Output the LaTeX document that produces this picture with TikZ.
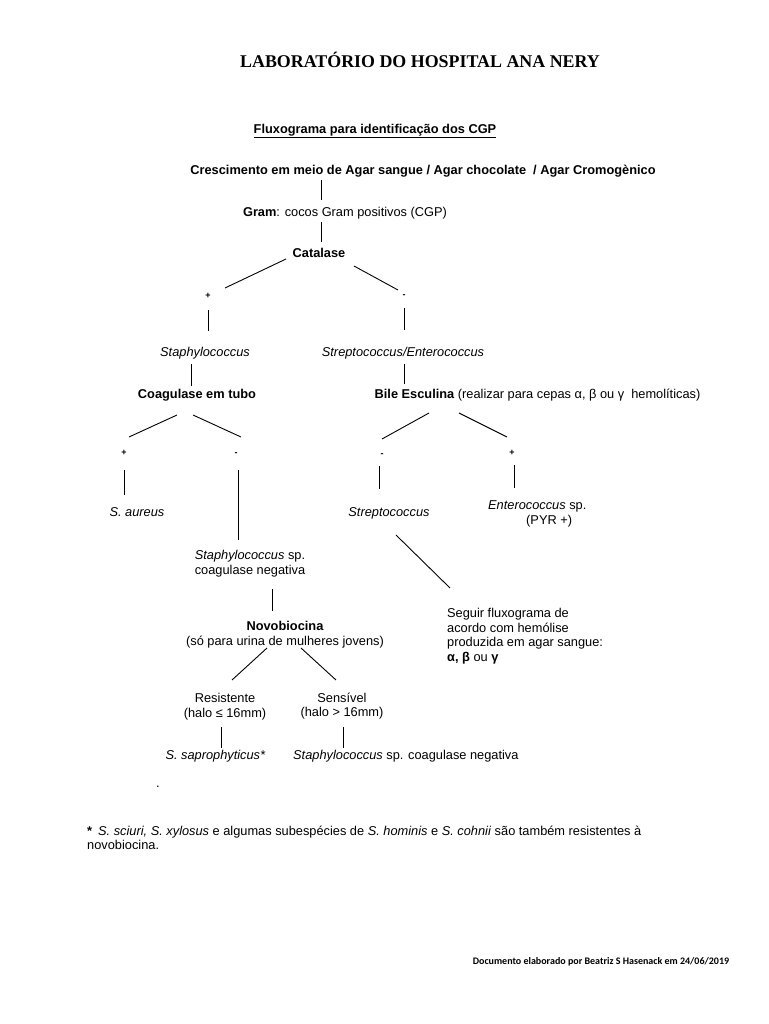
\documentclass[tikz,border=0pt]{standalone}
\usepackage{fontspec}
\setmainfont{Liberation Sans}
\newfontfamily\titlefont{Liberation Serif}
\newfontfamily\notefont{Carlito}
\usetikzlibrary{calc}

\begin{document}
\begin{tikzpicture}[x = 1pt, y = -1pt, font = \fontsize{12.8}{14.5}\selectfont]
\tikzstyle{TextStyle} = [inner sep = 0pt, anchor = base]
\tikzstyle{BlockStyle} = [inner sep = 0pt, anchor = north, align = center]
\tikzstyle{SignStyle} = [inner sep = 0pt, font = \fontsize{9}{9}\selectfont\bfseries]
\tikzstyle{EdgeStyle} = [line width = 0.9pt]
\useasboundingbox (0, 0) rectangle (768, 1024);
% headings
\node[TextStyle, font = \fontsize{17.9}{20}\selectfont\titlefont\bfseries] (title) at (420, 68) {LABORATÓRIO DO HOSPITAL ANA NERY};
\node[TextStyle, font = \fontsize{12.8}{14.5}\selectfont\bfseries] (sub) at (375, 133.5) {\underline{Fluxograma para identificação dos CGP}};
% flow
\node[TextStyle] (cresc) at (423, 174.5) {\textbf{Crescimento em meio de Agar sangue / Agar chocolate~ / Agar Cromogènico}};
\node[TextStyle] (gram) at (345, 216.5) {\textbf{Gram}: cocos Gram positivos (CGP)};
\node[TextStyle] (cat) at (319, 257.5) {\textbf{Catalase}};
\node[SignStyle] (pcat) at (208, 296) {+};
\node[SignStyle] (mcat) at (404, 296) {-};
\node[TextStyle] (staph) at (205, 356.5) {\textit{Staphylococcus}};
\node[TextStyle] (strepent) at (403, 356.5) {\textit{Streptococcus/Enterococcus}};
\node[TextStyle] (coag) at (197, 398.5) {\textbf{Coagulase em tubo}};
\node[TextStyle] (bile) at (537.5, 398.5) {\textbf{Bile Esculina} (realizar para cepas α, β ou γ~ hemolíticas)};
\node[SignStyle] (pcoag) at (124, 453) {+};
\node[SignStyle] (mcoag) at (236, 454) {-};
\node[SignStyle] (mbile) at (382, 455) {-};
\node[SignStyle] (pbile) at (512, 453) {+};
\node[TextStyle] (aureus) at (137, 516.5) {\textit{S. aureus}};
\node[BlockStyle] (staphneg) at (250, 550.5) {\textit{Staphylococcus} sp.\\coagulase negativa};
\node[TextStyle] (strep) at (389, 516.5) {\textit{Streptococcus}};
\node[BlockStyle, anchor = north west, align = left] (entero) at (488, 500.5) {\textit{Enterococcus} sp.\\\hspace*{38pt}(PYR +)};
\node[BlockStyle, anchor = north west, align = left] (seguir) at (447, 608.5) {Seguir fluxograma de\\acordo com hemólise\\produzida em agar sangue:\\\textbf{α, β} ou \textbf{γ}};
\node[BlockStyle] (novo) at (285, 621.5) {\textbf{Novobiocina}\\(só para urina de mulheres jovens)};
\node[BlockStyle] (resist) at (225, 693.5) {Resistente\\(halo ≤ 16mm)};
\node[BlockStyle] (sens) at (342, 692.8) {Sensível\\(halo > 16mm)};
\node[TextStyle] (sapro) at (215.5, 759.5) {\textit{S. saprophyticus*}};
\node[TextStyle, anchor = base west] (staphcn) at (293, 759.5) {\textit{Staphylococcus} sp. coagulase negativa};
\node[inner sep = 0pt] (dot) at (158, 787) {.};
% notes
\node[BlockStyle, anchor = north west, align = left] (foot) at (87, 825.5) {\textbf{*}\hspace{6pt}\textit{S. sciuri, S. xylosus} e algumas subespécies de \textit{S. hominis} e \textit{S. cohnii} são também resistentes à\\novobiocina.};
\node[inner sep = 0pt, font = \fontsize{10}{11}\selectfont\notefont\bfseries] (doc) at (601, 962) {Documento elaborado por Beatriz S Hasenack em 24/06/2019};
% connectors
\draw[EdgeStyle] ($(cresc.base)+(-102, 5.5)$) -- ($(gram.base)+(-24, -16.5)$);
\draw[EdgeStyle] ($(gram.base)+(-24, 5.5)$) -- ($(cat.base)+(2, -15.5)$);
\draw[EdgeStyle] ($(cat.base)+(-33, 1.5)$) -- ($(pcat)+(17, -8)$);
\draw[EdgeStyle] ($(cat.base)+(35, 8.5)$) -- ($(mcat)+(-6, -6)$);
\draw[EdgeStyle] ($(pcat)+(0, 14)$) -- ($(staph.base)+(3, -25.5)$);
\draw[EdgeStyle] ($(mcat)+(0, 12)$) -- ($(strepent.base)+(1, -26.5)$);
\draw[EdgeStyle] ($(staph.base)+(-14, 7.5)$) -- ($(coag.base)+(-6, -12.5)$);
\draw[EdgeStyle] ($(strepent.base)+(1, 7.5)$) -- ($(bile.base)+(-133.5, -14.5)$);
\draw[EdgeStyle] ($(coag.base)+(-20, 16.5)$) -- ($(pcoag)+(5, -16)$);
\draw[EdgeStyle] ($(coag.base)+(-4, 16.5)$) -- ($(mcoag)+(5, -17)$);
\draw[EdgeStyle] ($(bile.base)+(-108.5, 14.5)$) -- ($(mbile)+(0, -16)$);
\draw[EdgeStyle] ($(bile.base)+(-78.5, 14.5)$) -- ($(pbile)+(-5, -16)$);
\draw[EdgeStyle] ($(pcoag)+(0, 17)$) -- ($(aureus.base)+(-13, -21.5)$);
\draw[EdgeStyle] ($(mcoag)+(2, 16)$) -- ($(staphneg.north)+(-12, -10.5)$);
\draw[EdgeStyle] ($(mbile)+(-3, 11)$) -- ($(strep.base)+(-10, -27.5)$);
\draw[EdgeStyle] ($(pbile)+(2, 12)$) -- ($(entero.north west)+(26, -12.5)$);
\draw[EdgeStyle] ($(strep.base)+(7, 18.5)$) -- ($(seguir.north west)+(3, -20.5)$);
\draw[EdgeStyle] ($(staphneg.north)+(22, 38.5)$) -- ($(novo.north)+(-13, -10.5)$);
\draw[EdgeStyle] ($(novo.north)+(-18, 26.5)$) -- ($(resist.north)+(7, -13.5)$);
\draw[EdgeStyle] ($(novo.north)+(16, 26.5)$) -- ($(sens.north)+(-6, -12.8)$);
\draw[EdgeStyle] ($(resist.north)+(-4, 33.5)$) -- ($(sapro.base)+(5.5, -11.5)$);
\draw[EdgeStyle] ($(sens.north)+(1, 34.2)$) -- ($(staphcn.base west)+(50, -11.5)$);
\end{tikzpicture}
\end{document}
